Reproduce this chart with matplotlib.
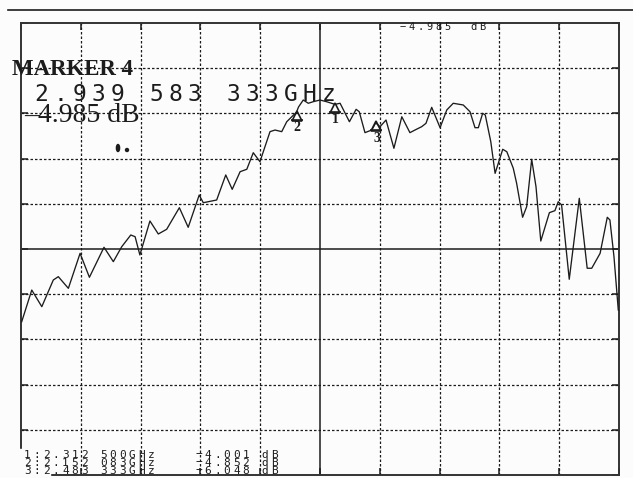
import numpy as np
import matplotlib
matplotlib.use("Agg")
import matplotlib.pyplot as plt
from matplotlib.patches import Ellipse, Rectangle
from matplotlib.lines import Line2D
from matplotlib.transforms import offset_copy

W, H = 633, 478     # figure size in pixels (dpi 100)

# Sweep 1.0 .. 3.5 GHz, 5 dB/div, ref -20 dB at centre line
f_start, f_stop = 1.0, 3.5
db_bot, db_top = -45.0, 5.0

freq_ghz = [1.003, 1.045, 1.087, 1.135, 1.156, 1.198, 1.247, 1.286, 1.347, 1.386,
            1.421, 1.459, 1.477, 1.497, 1.539, 1.574, 1.609, 1.662, 1.699, 1.745,
            1.762, 1.818, 1.856, 1.883, 1.916, 1.944, 1.971, 1.999, 2.041, 2.062,
            2.090, 2.111, 2.132, 2.152, 2.160, 2.180, 2.201, 2.221, 2.250, 2.278,
            2.3125, 2.334, 2.373, 2.401, 2.414, 2.438, 2.466, 2.483, 2.501, 2.526,
            2.559, 2.592, 2.626, 2.647, 2.675, 2.693, 2.717, 2.752, 2.780, 2.807,
            2.849, 2.877, 2.898, 2.912, 2.930, 2.941, 2.964, 2.982, 3.014, 3.031,
            3.058, 3.072, 3.097, 3.114, 3.135, 3.153, 3.173, 3.209, 3.232, 3.246,
            3.260, 3.292, 3.334, 3.367, 3.386, 3.421, 3.451, 3.462, 3.479, 3.497]
s21_db = [-28.04, -24.54, -26.38, -23.43, -23.06, -24.35, -20.48, -23.13, -19.81, -21.40,
          -19.75, -18.45, -18.64, -20.66, -16.90, -18.34, -17.82, -15.43, -17.60, -14.03,
          -14.88, -14.58, -11.81, -13.40, -11.45, -11.18, -9.35, -10.34, -7.02, -6.84,
          -7.02, -5.92, -5.37, -4.85, -4.30, -3.52, -3.88, -3.71, -3.52, -3.71,
          -4.00, -3.88, -5.92, -4.55, -4.81, -7.13, -6.84, -6.05, -6.47, -5.73,
          -8.86, -5.37, -7.13, -6.84, -6.47, -6.10, -4.33, -6.58, -4.62, -3.88,
          -4.07, -4.81, -6.58, -6.58, -4.99, -5.18, -8.13, -11.63, -8.97, -9.24,
          -11.07, -12.73, -16.49, -15.32, -10.08, -13.11, -19.12, -15.98, -15.76, -14.77,
          -15.13, -23.35, -14.39, -22.13, -22.13, -20.48, -16.49, -16.79, -20.85, -26.75]

# Markers 1..3 and active marker 4
mkr_num = ["1", "2", "3"]
mkr_freq = [2.3125, 2.152083, 2.483333]
mkr_freq_txt = ["2.312 500GHz", "2.152 083GHz", "2.483 333GHz"]
mkr_db = [-4.001, -4.852, -6.048]
act_freq_txt = "2.939 583 333GHz"
act_db = -4.985

ink = "#1c1c1c"
bg = "#fcfcfc"


def px(x, y):
    """figure pixel (from top-left) -> figure fraction"""
    return x / W, 1 - y / H


def mono(x, y, s, pitch, **kw):
    # fixed pitch text, one glyph per cell, y is the baseline
    for i, c in enumerate(s):
        if c != " ":
            fig.text(*px(x + i * pitch, y), c, ha="left", va="baseline", **kw)


fig = plt.figure(figsize=(W / 100, H / 100), dpi=100, facecolor=bg)
ax = fig.add_axes([21 / W, 1 - 475 / H, 598 / W, 452 / H], facecolor=bg)
ax.set_xlim(f_start, f_stop)
ax.set_ylim(db_bot, db_top)

xt = np.linspace(f_start, f_stop, 11)
yt = np.linspace(db_bot, db_top, 11)
ax.set_xticks(xt)
ax.set_yticks(yt)
ax.tick_params(direction="in", length=5, width=1.1, color=ink,
               top=True, right=True, labelbottom=False, labelleft=False)
for s in ax.spines.values():
    s.set_color("#333333")
    s.set_linewidth(1.4)

# graticule: dotted, centre lines solid
for i, v in enumerate(xt[1:-1], 1):
    if i == 5:
        ax.axvline(v, color=ink, lw=1.1, zorder=1)
    else:
        ax.axvline(v, color=ink, lw=0.9, ls=(0, (2, 1.6)), zorder=1)
for i, v in enumerate(yt[1:-1], 1):
    if i == 5:
        ax.axhline(v, color=ink, lw=1.1, zorder=1)
    else:
        ax.axhline(v, color=ink, lw=0.9, ls=(0, (2, 1.6)), zorder=1)

ax.plot(freq_ghz, s21_db, color=ink, lw=0.95, zorder=3)

# marker symbols: open triangle with its apex on the trace, number below
tri = offset_copy(ax.transData, fig=fig, x=0, y=-3.5, units="dots")
ax.plot(mkr_freq, mkr_db, ls="none", marker="^", ms=6.5, mfc="none",
        mec=ink, mew=1.2, transform=tri, zorder=4)
bar = offset_copy(ax.transData, fig=fig, x=0, y=-7.5, units="dots")
ax.plot(mkr_freq, mkr_db, ls="none", marker="_", ms=8, mec=ink, mew=1.2,
        transform=bar, zorder=4)
for n, f, d in zip(mkr_num, mkr_freq, mkr_db):
    ax.annotate(n, (f, d), xytext=(0.5, -6.5), textcoords="offset points",
                ha="center", va="top", fontsize=10, color=ink,
                family="Liberation Serif", weight="bold", zorder=4)

# top rule
fig.add_artist(Line2D([8 / W, 1], [1 - 10 / H] * 2, color=ink, lw=1.2))

# active marker readout
fig.text(*px(12, 75), "MARKER 4", family="Liberation Serif", weight="bold",
         fontsize=16.5, color=ink, va="baseline")
mono(34, 101, act_freq_txt, 19.2, family="DejaVu Sans Mono", fontsize=16.5, color=ink)
fig.text(*px(24, 122), f"{act_db:.3f} dB".replace("-", "\u2013"),
         family="Liberation Serif", fontsize=20, color=ink, va="baseline")
mono(400, 30, f"{act_db:.3f}  dB".replace("-", "\u2212"), 8.8,
     family="DejaVu Sans Mono", fontsize=7.5, color=ink)

# two stray dots
fig.add_artist(Ellipse(px(118, 148), 3.2 / W, 7 / H, color=ink))
fig.add_artist(Ellipse(px(127, 150), 3 / W, 3 / H, color=ink))

# marker list in the bottom-left cell, blanking the frame corner
fig.add_artist(Rectangle(px(15, 478), 35 / W, 29 / H, color=bg, zorder=5))
for k, (n, ft, d) in enumerate(zip(mkr_num, mkr_freq_txt, mkr_db)):
    line = f"{n}:{ft}    {d:.3f} dB".replace("-", "\u2212")
    mono(24, 457.5 + 8 * k, line, 9.5, family="DejaVu Sans Mono",
         fontsize=8, color=ink, zorder=6)

fig.savefig("out.png", dpi=100, facecolor=bg)
